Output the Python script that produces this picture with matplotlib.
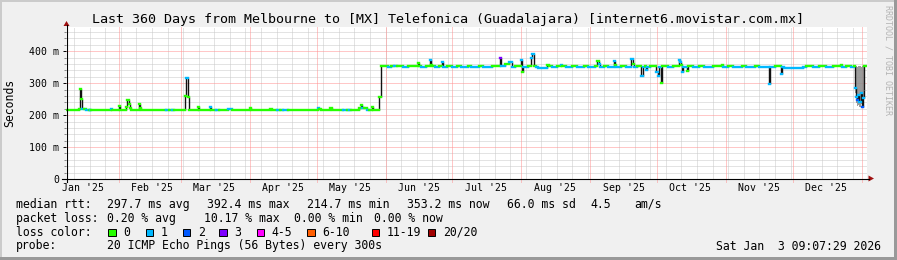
import matplotlib
matplotlib.use("Agg")
import matplotlib.pyplot as plt
import matplotlib.dates as mdates
from matplotlib.collections import LineCollection
from matplotlib.lines import Line2D
from matplotlib.patches import Polygon, Rectangle
from matplotlib.ticker import FuncFormatter, MultipleLocator
import numpy as np
import pandas as pd

plt.rcParams["font.family"] = "DejaVu Sans Mono"

W, H = 897, 260

title = "Last 360 Days from Melbourne to [MX] Telefonica (Guadalajara) [internet6.movistar.com.mx]"
t_start = "2025-01-08 09:07:29"
t_end = "2026-01-03 09:07:29"

# median rtt steps: (start of step, ms, lost pings of 20)
before_jump = [
    ("2025-01-08 09:07", 216, 0), ("2025-01-14 00:00", 218, 0), ("2025-01-14 12:00", 281, 0),
    ("2025-01-15 00:00", 252, 0), ("2025-01-15 12:00", 219, 1), ("2025-01-16 12:00", 218, 0),
    ("2025-01-17 12:00", 216, 1), ("2025-01-18 12:00", 216, 0), ("2025-01-19 00:00", 216, 1),
    ("2025-01-19 18:00", 216, 0), ("2025-01-28 12:00", 218, 1), ("2025-01-29 06:00", 216, 0),
    ("2025-02-01 00:00", 228, 0), ("2025-02-01 12:00", 216, 0), ("2025-02-04 12:00", 224, 0),
    ("2025-02-05 00:00", 247, 0), ("2025-02-05 12:00", 236, 0), ("2025-02-06 00:00", 222, 0),
    ("2025-02-06 12:00", 216, 0), ("2025-02-10 00:00", 234, 0), ("2025-02-10 12:00", 222, 0),
    ("2025-02-11 00:00", 216, 0), ("2025-02-22 06:00", 216, 1), ("2025-02-23 12:00", 216, 0),
    ("2025-02-25 00:00", 216, 1), ("2025-02-26 00:00", 216, 0), ("2025-03-03 00:00", 260, 0),
    ("2025-03-03 12:00", 315, 1), ("2025-03-04 00:00", 258, 0), ("2025-03-04 12:00", 216, 0),
    ("2025-03-08 12:00", 225, 0), ("2025-03-09 00:00", 216, 0), ("2025-03-14 06:00", 226, 1),
    ("2025-03-14 18:00", 216, 0), ("2025-03-17 00:00", 216, 1), ("2025-03-18 00:00", 216, 0),
    ("2025-03-22 00:00", 218, 1), ("2025-03-24 00:00", 216, 0), ("2025-04-01 00:00", 223, 0),
    ("2025-04-01 12:00", 216, 0), ("2025-04-10 06:00", 220, 0), ("2025-04-10 18:00", 216, 0),
    ("2025-04-13 00:00", 216, 1), ("2025-04-14 12:00", 216, 0), ("2025-04-16 00:00", 216, 1),
    ("2025-04-18 00:00", 216, 0), ("2025-05-01 18:00", 223, 1), ("2025-05-02 06:00", 218, 0),
    ("2025-05-03 00:00", 216, 0), ("2025-05-07 06:00", 223, 0), ("2025-05-07 18:00", 216, 0),
    ("2025-05-13 00:00", 216, 1), ("2025-05-14 12:00", 216, 0), ("2025-05-15 12:00", 216, 1),
    ("2025-05-16 12:00", 216, 0), ("2025-05-20 00:00", 222, 0), ("2025-05-21 00:00", 232, 0),
    ("2025-05-21 12:00", 222, 1), ("2025-05-22 12:00", 221, 0), ("2025-05-23 12:00", 216, 1),
    ("2025-05-24 12:00", 216, 0), ("2025-05-26 00:00", 224, 0), ("2025-05-26 12:00", 216, 0),
    ("2025-05-29 06:00", 258, 0),
]

after_jump = [
    ("2025-05-30 04:00", 353, 0), ("2025-06-02 00:00", 352, 1), ("2025-06-03 12:00", 353, 0),
    ("2025-06-05 00:00", 355, 1), ("2025-06-06 00:00", 353, 0), ("2025-06-09 00:00", 352, 1),
    ("2025-06-11 00:00", 353, 0), ("2025-06-15 12:00", 364, 0), ("2025-06-16 00:00", 353, 0),
    ("2025-06-17 00:00", 352, 1), ("2025-06-19 00:00", 353, 0), ("2025-06-20 20:00", 373, 1),
    ("2025-06-21 08:00", 358, 0), ("2025-06-21 20:00", 353, 0), ("2025-06-23 00:00", 352, 1),
    ("2025-06-25 00:00", 353, 0), ("2025-06-26 12:00", 366, 1), ("2025-06-27 00:00", 352, 1),
    ("2025-06-28 12:00", 353, 0), ("2025-07-01 00:00", 352, 1), ("2025-07-03 00:00", 353, 0),
    ("2025-07-05 00:00", 352, 1), ("2025-07-08 00:00", 353, 0), ("2025-07-09 12:00", 352, 1),
    ("2025-07-13 00:00", 353, 0), ("2025-07-15 00:00", 352, 1), ("2025-07-19 00:00", 353, 0),
    ("2025-07-22 06:00", 380, 3), ("2025-07-22 18:00", 355, 1), ("2025-07-24 16:00", 360, 0),
    ("2025-07-26 12:00", 367, 1), ("2025-07-27 18:00", 352, 1), ("2025-07-29 00:00", 353, 0),
    ("2025-07-31 18:00", 372, 1), ("2025-08-01 06:00", 336, 0), ("2025-08-01 18:00", 352, 1),
    ("2025-08-04 00:00", 353, 0), ("2025-08-05 12:00", 378, 1), ("2025-08-06 00:00", 392.4, 1),
    ("2025-08-06 12:00", 353, 0), ("2025-08-07 12:00", 352, 1), ("2025-08-08 12:00", 349, 1),
    ("2025-08-12 12:00", 357, 0), ("2025-08-13 06:00", 353, 0), ("2025-08-15 00:00", 352, 1),
    ("2025-08-17 00:00", 353, 0), ("2025-08-19 00:00", 357, 1), ("2025-08-19 12:00", 353, 0),
    ("2025-08-21 00:00", 352, 1), ("2025-08-24 00:00", 353, 0), ("2025-08-26 00:00", 352, 1),
    ("2025-08-29 00:00", 353, 0), ("2025-08-31 00:00", 352, 1), ("2025-09-03 00:00", 353, 0),
    ("2025-09-04 06:00", 370, 0), ("2025-09-04 18:00", 360, 1), ("2025-09-05 06:00", 352, 1),
    ("2025-09-07 00:00", 353, 0), ("2025-09-09 00:00", 352, 1), ("2025-09-11 12:00", 370, 1),
    ("2025-09-12 00:00", 358, 0), ("2025-09-12 12:00", 352, 1), ("2025-09-15 00:00", 353, 0),
    ("2025-09-17 00:00", 352, 1), ("2025-09-19 12:00", 376, 1), ("2025-09-20 00:00", 360, 0),
    ("2025-09-20 12:00", 352, 1), ("2025-09-22 00:00", 353, 0), ("2025-09-24 00:00", 323, 1),
    ("2025-09-24 12:00", 352, 1), ("2025-09-25 12:00", 353, 0), ("2025-09-26 00:00", 341, 1),
    ("2025-09-26 12:00", 352, 1), ("2025-09-28 00:00", 353, 0), ("2025-09-30 18:00", 336, 1),
    ("2025-10-01 12:00", 323, 1), ("2025-10-02 00:00", 352, 1), ("2025-10-02 18:00", 301, 0),
    ("2025-10-03 06:00", 353, 0), ("2025-10-06 00:00", 352, 1), ("2025-10-08 00:00", 353, 0),
    ("2025-10-10 18:00", 373, 1), ("2025-10-11 06:00", 366, 1), ("2025-10-11 18:00", 358, 0),
    ("2025-10-12 06:00", 336, 1), ("2025-10-12 18:00", 352, 1), ("2025-10-14 12:00", 338, 0),
    ("2025-10-15 00:00", 353, 0), ("2025-10-17 00:00", 352, 1), ("2025-10-20 00:00", 353, 0),
    ("2025-10-22 00:00", 352, 1), ("2025-10-26 00:00", 353, 0), ("2025-10-30 06:00", 356, 0),
    ("2025-10-30 18:00", 352, 1), ("2025-11-02 00:00", 353, 0), ("2025-11-04 00:00", 352, 1),
    ("2025-11-08 00:00", 353, 0), ("2025-11-10 00:00", 352, 1), ("2025-11-14 00:00", 353, 0),
    ("2025-11-16 00:00", 352, 1), ("2025-11-20 12:00", 299, 1), ("2025-11-21 00:00", 352, 1),
    ("2025-11-23 00:00", 353, 0), ("2025-11-25 18:00", 329, 1), ("2025-11-26 06:00", 352, 1),
    ("2025-11-27 00:00", 349, 1), ("2025-12-05 12:00", 352, 1), ("2025-12-07 00:00", 353, 0),
    ("2025-12-10 00:00", 352, 1), ("2025-12-13 00:00", 353, 0), ("2025-12-16 00:00", 352, 1),
    ("2025-12-19 00:00", 353, 0), ("2025-12-22 18:00", 357, 0), ("2025-12-23 06:00", 352, 1),
    ("2025-12-25 00:00", 353, 0), ("2025-12-27 00:00", 352, 1), ("2025-12-28 12:00", 353, 0),
    ("2025-12-29 00:00", 285, 1), ("2025-12-29 12:00", 258, 1), ("2025-12-30 00:00", 248, 2),
    ("2025-12-30 12:00", 262, 1), ("2025-12-31 00:00", 240, 1), ("2025-12-31 12:00", 270, 1),
    ("2026-01-01 00:00", 226, 2), ("2026-01-01 12:00", 255, 1), ("2026-01-02 00:00", 280, 1),
    ("2026-01-02 06:00", 353, 0),
]

# spread of the single pings during the last days
smoke_time = ["2025-12-29 00:00", "2025-12-29 12:00", "2025-12-30 00:00", "2025-12-30 12:00",
              "2025-12-31 00:00", "2025-12-31 12:00", "2026-01-01 00:00", "2026-01-01 12:00",
              "2026-01-02 00:00", "2026-01-02 06:00"]
smoke_low = [268, 238, 228, 232, 225, 236, 221, 228, 250, 350]
smoke_high = [353, 353, 352, 353, 353, 352, 353, 353, 353, 354]

loss_labels = ["0", "1", "2", "3", "4-5", "6-10", "11-19", "20/20"]
loss_upper = [0, 1, 2, 3, 5, 10, 19, 20]
loss_colors = ["#26ff00", "#00b8ff", "#0059ff", "#7e00ff", "#ff00ff", "#ff5e00", "#ff0000", "#a10000"]

rtt_stats = ["297.7 ms avg", "392.4 ms max", "214.7 ms min", "353.2 ms now", "66.0 ms sd", "4.5", "am/s"]
loss_stats = ["0.20 % avg", "10.17 % max", "0.00 % min", "0.00 % now"]
probe_text = "20 ICMP Echo Pings (56 Bytes) every 300s"
stamp = "Sat Jan  3 09:07:29 2026"


def fx(x):
    return x / W


def fy(y):
    return 1 - y / H


fig = plt.figure(figsize=(W / 100, H / 100), dpi=100, facecolor="#f0f0f0")

# 3d frame
fig.add_artist(Rectangle((0, fy(2)), 1, 2 / H, transform=fig.transFigure, color="#cbcbcb", lw=0))
fig.add_artist(Rectangle((0, 0), 2 / W, 1, transform=fig.transFigure, color="#cbcbcb", lw=0))
fig.add_artist(Rectangle((0, 0), 1, 3 / H, transform=fig.transFigure, color="#999999", lw=0))
fig.add_artist(Rectangle((fx(W - 3), 0), 3 / W, 1, transform=fig.transFigure, color="#999999", lw=0))

ax = fig.add_axes([fx(66), fy(179), (867 - 66) / W, (179 - 27) / H])
ax.set_facecolor("white")
for s in ax.spines.values():
    s.set_visible(False)

x0 = mdates.date2num(pd.Timestamp(t_start))
x1 = mdates.date2num(pd.Timestamp(t_end))
ax.set_xlim(x0, x1)
ax.set_ylim(0, 476)

# grid
ax.yaxis.set_major_locator(MultipleLocator(100))
ax.yaxis.set_minor_locator(MultipleLocator(20))
ax.yaxis.set_major_formatter(FuncFormatter(lambda v, p: "0" if v == 0 else "%d m" % v))
ax.grid(which="minor", axis="y", color="#c8c8c8", lw=0.72, ls=(0, (1, 1)))
ax.grid(which="major", axis="y", color="#ff9090", lw=0.72, ls=(0, (1, 1)))
ax.set_axisbelow(True)

weeks = mdates.date2num(pd.date_range("2025-01-12", t_end, freq="W-SUN"))
ax.vlines(weeks, 0, 476, color="#c8c8c8", lw=0.72, ls=(0, (1, 1)), zorder=0.5)
months = mdates.date2num(pd.date_range("2025-02-01", "2026-01-01", freq="MS"))
ax.vlines(months, -8, 476, color="#ff9090", lw=0.72, ls=(0, (1, 1)), zorder=0.6, clip_on=False)

ax.xaxis.set_major_locator(mdates.MonthLocator(bymonthday=16))
ax.xaxis.set_major_formatter(mdates.DateFormatter("%b '%y"))
ax.tick_params(axis="x", which="both", length=0, pad=3, labelsize=7.1)
ax.tick_params(axis="y", which="major", length=2, width=0.7, pad=3, labelsize=7.1, direction="out")
ax.tick_params(axis="y", which="minor", length=1.5, width=0.6, color="#777777", direction="out")

# median rtt coloured by loss
steps = before_jump + after_jump
t = mdates.date2num(pd.to_datetime([s[0] for s in steps]))
v = np.array([s[1] for s in steps], dtype=float)
lost = np.array([s[2] for s in steps])
edges = np.append(t, x1 - 0.3)

ts = mdates.date2num(pd.to_datetime(smoke_time))
ax.fill_between(np.append(ts, ts[-1] + 0.25), np.append(smoke_low, smoke_low[-1]),
                np.append(smoke_high, smoke_high[-1]), step="post", color="#8a8a8a",
                lw=0, alpha=0.85, zorder=2)

ax.vlines(t[1:], np.minimum(v[:-1], v[1:]), np.maximum(v[:-1], v[1:]), color="#111111", lw=1.0, zorder=3)

segs = [[(edges[i], v[i]), (edges[i + 1], v[i])] for i in range(len(v))]
cols = [loss_colors[int(np.searchsorted(loss_upper, n))] for n in lost]
lc = LineCollection(segs, colors=cols, linewidths=1.7, zorder=4)
lc.set_capstyle("projecting")
ax.add_collection(lc)

# axes with arrows
arrow_col = "#a01010"
fig.add_artist(Line2D([fx(66.5), fx(66.5)], [fy(182), fy(25)], color="black", lw=0.8))
fig.add_artist(Line2D([fx(62), fx(869)], [fy(178.5), fy(178.5)], color="black", lw=0.8))
fig.add_artist(Polygon([(fx(63.5), fy(26)), (fx(69.5), fy(26)), (fx(66.5), fy(21))],
                       closed=True, transform=fig.transFigure, color=arrow_col, lw=0))
fig.add_artist(Polygon([(fx(868.5), fy(175.5)), (fx(868.5), fy(181.5)), (fx(874), fy(178.5))],
                       closed=True, transform=fig.transFigure, color=arrow_col, lw=0))

# texts
fig.text(fx(448), fy(19.3), title, ha="center", va="center", fontsize=9.6)
fig.text(fx(10), fy(103), "Seconds", rotation=90, ha="center", va="center", fontsize=8.3)
fig.text(fx(887.5), fy(60), "RRDTOOL / TOBI OETIKER", rotation=270, ha="center", va="center",
         fontsize=6, color="#b4b4b4")

fs = 8.3
row_y = [204.3, 218.3, 232.3, 246]
fig.text(fx(16), fy(row_y[0]), "median rtt:", va="center", fontsize=fs)
for x, s in zip([107.3, 207.3, 307.3, 407.3, 507.3, 590.5, 634], rtt_stats):
    fig.text(fx(x), fy(row_y[0]), s, va="center", fontsize=fs)

fig.text(fx(16), fy(row_y[1]), "packet loss:", va="center", fontsize=fs)
for x, s in zip([107.3, 204, 293.5, 373.5], loss_stats):
    fig.text(fx(x), fy(row_y[1]), s, va="center", fontsize=fs)

fig.text(fx(16), fy(row_y[2]), "loss color:", va="center", fontsize=fs)
swatch_x = [108.3, 145.7, 182.7, 219.3, 256.7, 307, 371.7, 427.7]
for x, lab, c in zip(swatch_x, loss_labels, loss_colors):
    fig.add_artist(Rectangle((fx(x), fy(236)), 7.5 / W, 7.5 / H, transform=fig.transFigure,
                             facecolor=c, edgecolor="black", lw=0.7))
    fig.text(fx(x + 15), fy(row_y[2]), lab, va="center", fontsize=fs)

fig.text(fx(16), fy(row_y[3]), "probe:", va="center", fontsize=fs)
fig.text(fx(107.3), fy(row_y[3]), probe_text, va="center", fontsize=fs)
fig.text(fx(881), fy(row_y[3]), stamp, ha="right", va="center", fontsize=fs)

fig.savefig("out.png", dpi=100, facecolor=fig.get_facecolor())
